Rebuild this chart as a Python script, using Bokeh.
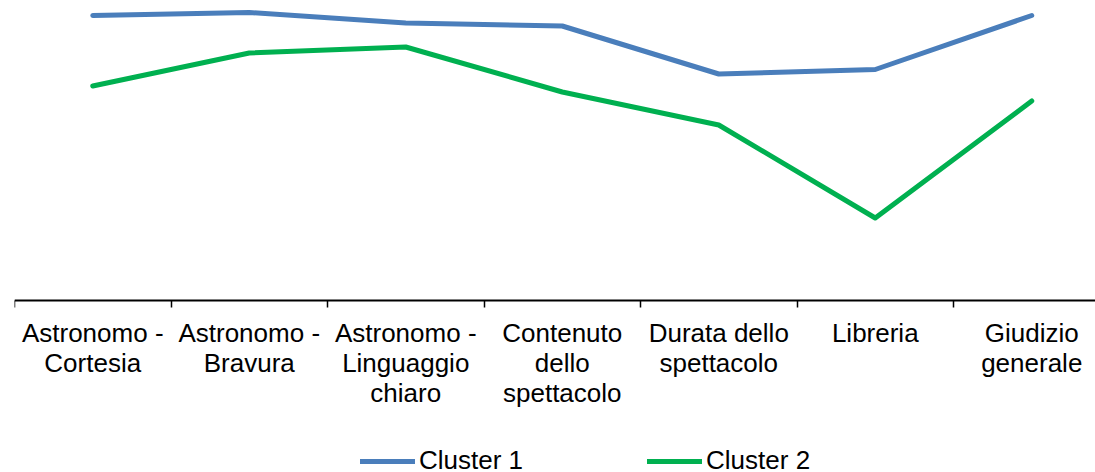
from bokeh.plotting import figure
from bokeh.models import Range1d, FixedTicker, Legend, LegendItem, LinearAxis
from bokeh.embed import file_html
from bokeh.resources import INLINE

categories = ["Astronomo -\nCortesia", "Astronomo -\nBravura", "Astronomo -\nLinguaggio\nchiaro",
              "Contenuto\ndello\nspettacolo", "Durata dello\nspettacolo", "Libreria", "Giudizio\ngenerale"]
cluster1 = [4.90, 4.92, 4.85, 4.83, 4.51, 4.54, 4.90]
cluster2 = [4.43, 4.65, 4.69, 4.39, 4.17, 3.55, 4.33]
y_base = 3.0

FONT = "Liberation Sans"
xs = list(range(len(categories)))
n = len(categories)

W, H = 1095, 472
LEFT = 14
p = figure(width=W, height=H, output_backend="svg", toolbar_location=None,
           x_range=Range1d(-0.5, -0.5 + (W - LEFT) / 156.5),
           y_range=Range1d(5 - H / 150, 5.0),
           x_axis_location=None, y_axis_location=None, min_border_left=LEFT, min_border_right=0,
           min_border_top=0, min_border_bottom=0)
p.outline_line_color = None
p.xgrid.visible = False
p.ygrid.visible = False

r1 = p.line(xs, cluster1, line_color="#4A7EBB", line_width=5, line_join="round", line_cap="round")
r2 = p.line(xs, cluster2, line_color="#00B050", line_width=5, line_join="round", line_cap="round")

# split the multi-line category labels into rows, one axis per row
rows = [c.split("\n") for c in categories]
nrows = max(len(r) for r in rows)
standoffs = [10, 47, 77]
for k in range(nrows):
    ax = LinearAxis(fixed_location=y_base)
    ax.ticker = FixedTicker(ticks=xs, minor_ticks=[i - 0.5 for i in range(n + 1)])
    ax.major_label_overrides = {i: (rows[i][k] if k < len(rows[i]) else "") for i in xs}
    ax.major_tick_line_color = None
    ax.major_tick_out = 0
    ax.major_tick_in = 0
    ax.minor_tick_in = 0
    ax.major_label_text_font = FONT
    ax.major_label_text_font_size = "26px"
    ax.major_label_text_color = "#000000"
    ax.major_label_standoff = standoffs[k]
    if k == 0:
        ax.minor_tick_out = 7
        ax.minor_tick_line_color = "#000000"
        ax.minor_tick_line_width = 1.5
        ax.axis_line_color = "#000000"
        ax.axis_line_width = 2
    else:
        ax.minor_tick_out = 0
        ax.minor_tick_line_color = None
        ax.axis_line_color = None
    p.add_layout(ax, "below")

legend = Legend(items=[LegendItem(label="Cluster 1", renderers=[r1]),
                       LegendItem(label="Cluster 2", renderers=[r2])],
                orientation="horizontal", location=(346, -4))
legend.glyph_width = 55
legend.glyph_height = 20
legend.label_standoff = 4
legend.spacing = 124
legend.padding = 0
legend.margin = 0
legend.border_line_color = None
legend.background_fill_alpha = 0
legend.label_text_font = FONT
legend.label_text_font_size = "26px"
legend.label_text_color = "#000000"
p.add_layout(legend, "center")

open("out.html", "w").write(file_html(p, INLINE))
